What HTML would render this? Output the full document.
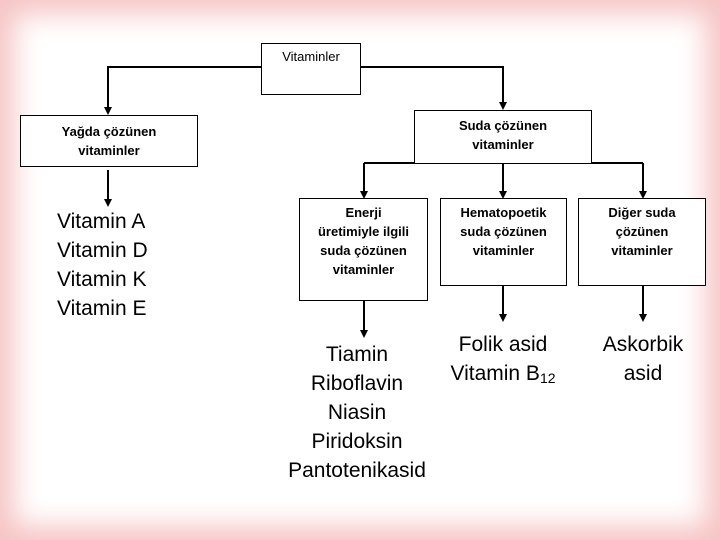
<!DOCTYPE html>
<html><head><meta charset="utf-8"><style>
body{margin:0;width:720px;height:540px;overflow:hidden;position:relative;font-family:"Liberation Sans",sans-serif;background:#fff}
.bg{position:absolute;inset:0;box-shadow:inset 0 0 28px 14px #f7c4c4;background:#fff}
.box{position:absolute;border:1.5px solid #000;background:#fff;box-sizing:border-box;text-align:center;font-weight:bold;font-size:13px;line-height:19px}
.t{position:absolute;font-size:21px;line-height:29px;text-align:center;white-space:nowrap}
svg{position:absolute;left:0;top:0}
</style></head><body>
<div class="bg"></div>
<svg width="720" height="540">
<g stroke="#000" stroke-width="2" fill="none">
<path d="M261,67 H108 V108"/>
<path d="M360,67 H503 V103"/>
<path d="M364,163 H643"/>
<path d="M364,163 V192"/>
<path d="M503,163 V192"/>
<path d="M643,163 V192"/>
<path d="M108,170 V200"/>
<path d="M364,300 V331"/>
<path d="M503,285 V315"/>
<path d="M643,285 V315"/>
</g>
<g fill="#000">
<path d="M104,107 h8 l-4,8 z"/>
<path d="M499,102 h8 l-4,8 z"/>
<path d="M360,191 h8 l-4,8 z"/>
<path d="M499,191 h8 l-4,8 z"/>
<path d="M639,191 h8 l-4,8 z"/>
<path d="M104,199 h8 l-4,8 z"/>
<path d="M360,330 h8 l-4,8 z"/>
<path d="M499,314 h8 l-4,8 z"/>
<path d="M639,314 h8 l-4,8 z"/>
</g></svg>
<div class="box" style="left:261px;top:43px;width:100px;height:52px;font-weight:normal;line-height:26px">Vitaminler</div>
<div class="box" style="left:20px;top:115px;width:178px;height:52px;padding-top:6px">Yağda çözünen<br>vitaminler</div>
<div class="box" style="left:414px;top:110px;width:178px;height:54px;padding-top:5px">Suda çözünen<br>vitaminler</div>
<div class="box" style="left:299px;top:198px;width:129px;height:103px;padding-top:4px">Enerji<br>üretimiyle ilgili<br>suda çözünen<br>vitaminler</div>
<div class="box" style="left:440px;top:198px;width:127px;height:88px;padding-top:4px">Hematopoetik<br>suda çözünen<br>vitaminler</div>
<div class="box" style="left:578px;top:198px;width:128px;height:88px;padding-top:4px">Diğer suda<br>çözünen<br>vitaminler</div>
<div class="t" style="left:57px;top:207px;text-align:left">Vitamin A<br>Vitamin D<br>Vitamin K<br>Vitamin E</div>
<div class="t" style="left:257px;top:340px;width:200px">Tiamin<br>Riboflavin<br>Niasin<br>Piridoksin<br>Pantotenikasid</div>
<div class="t" style="left:423px;top:330px;width:160px">Folik asid<br>Vitamin B<sub style="font-size:14px;vertical-align:-3px">12</sub></div>
<div class="t" style="left:583px;top:330px;width:120px">Askorbik<br>asid</div>
</body></html>
